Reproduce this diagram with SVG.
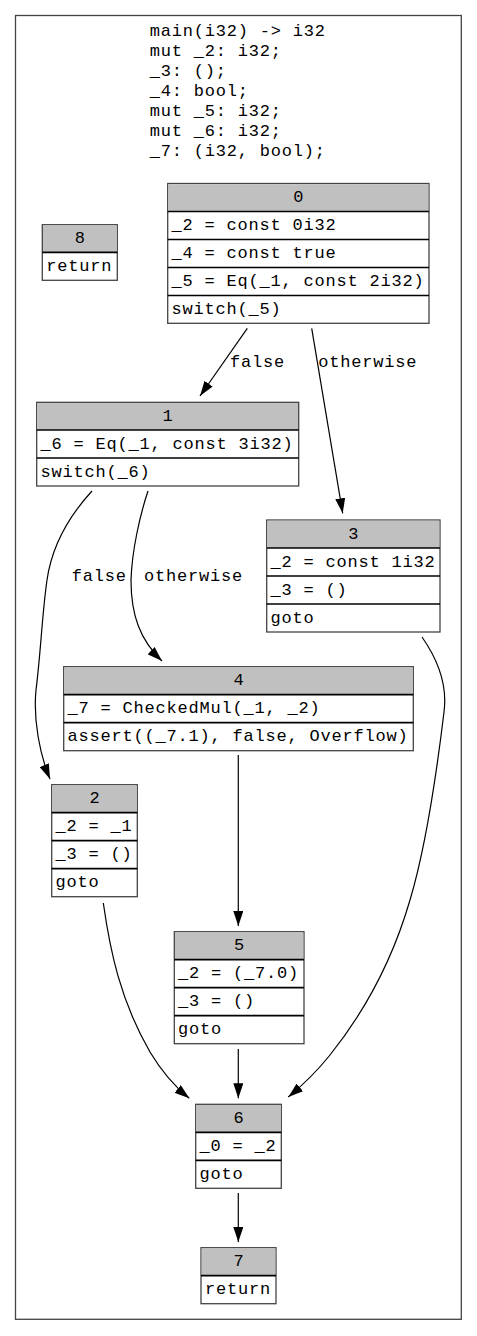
<svg xmlns="http://www.w3.org/2000/svg" width="477" height="1336" viewBox="0 0 477 1336">
<style>
text { font-family: "Liberation Mono", "Courier New", monospace; font-size: 17px; letter-spacing: 0.8px; fill: #000; }
.c { text-anchor: middle; letter-spacing: 0; }
.box { fill: #fff; stroke: #444; stroke-width: 1.3; }
.hd { fill: #c0c0c0; stroke: none; }
.sep { stroke: #000; stroke-width: 1.7; }
.edge { fill: none; stroke: #000; stroke-width: 1.2; marker-end: url(#ah); }
.frame { fill: #fff; stroke: #444; stroke-width: 1.3; }
</style>
<defs>
<marker id="ah" markerUnits="userSpaceOnUse" markerWidth="15" markerHeight="10" refX="15" refY="5" orient="auto" viewBox="0 0 15 10">
<path d="M0,0 L15,5 L0,10 z" fill="#000"/>
</marker>
</defs>
<rect width="477" height="1336" fill="#fff"/>
<rect class="frame" x="15.5" y="15.5" width="445.8" height="1303.8"/>
<g id="title">
<text x="149.7" y="36">main(i32) -&gt; i32</text>
<text x="149.7" y="56">mut _2: i32;</text>
<text x="149.7" y="76">_3: ();</text>
<text x="149.7" y="96">_4: bool;</text>
<text x="149.7" y="116">mut _5: i32;</text>
<text x="149.7" y="136">mut _6: i32;</text>
<text x="149.7" y="156">_7: (i32, bool);</text>
</g>
<g id="connectors">
<path class="edge" d="M247.3,328.3 L200,396"/>
<path class="edge" d="M311.7,328.3 L342.7,513.3"/>
<path class="edge" d="M92,491 C70,515 52,545 47,580 C42,615 41,650 36,690 C33,720 40,755 50,779"/>
<path class="edge" d="M148,491 C140,515 132,550 131,580 C131,615 140,640 162,661"/>
<path class="edge" d="M422,637 C436,657 448,682 444,712 C437,770 425,850 410,900 C392,962 362,1015 330,1055 C318,1070 304,1084 288.3,1097"/>
<path class="edge" d="M103.3,903 C110,950 120,1000 150,1052 C162,1072 174,1086 189.3,1098.3"/>
<path class="edge" d="M238.3,755 L238.3,926"/>
<path class="edge" d="M238.3,1049 L238.3,1098.3"/>
<path class="edge" d="M238.3,1193 L238.3,1242"/>
<text x="230" y="366.7">false</text>
<text x="318.3" y="366.7">otherwise</text>
<text x="71.7" y="581">false</text>
<text x="144" y="581">otherwise</text>
</g>
<g id="node8">
<rect class="box" x="42.3" y="224.7" width="75" height="55.6"/>
<rect class="hd" x="43" y="225.4" width="73.6" height="26.9"/>
<line class="sep" x1="42.3" y1="252.3" x2="117.3" y2="252.3"/>
<text class="c" x="79.8" y="243.2">8</text>
<text x="46.3" y="271">return</text>
</g>
<g id="node0">
<rect class="box" x="167.7" y="183.5" width="261.3" height="139.8"/>
<rect class="hd" x="168.4" y="184.2" width="259.9" height="27.3"/>
<line class="sep" x1="167.7" y1="211.5" x2="429" y2="211.5"/>
<line class="sep" x1="167.7" y1="239.5" x2="429" y2="239.5"/>
<line class="sep" x1="167.7" y1="267.5" x2="429" y2="267.5"/>
<line class="sep" x1="167.7" y1="295.5" x2="429" y2="295.5"/>
<text class="c" x="298.4" y="202">0</text>
<text x="171.5" y="230">_2 = const 0i32</text>
<text x="171.5" y="258">_4 = const true</text>
<text x="171.5" y="286">_5 = Eq(_1, const 2i32)</text>
<text x="171.5" y="314">switch(_5)</text>
</g>
<g id="node1">
<rect class="box" x="36.7" y="402.3" width="262" height="83.7"/>
<rect class="hd" x="37.4" y="403" width="260.6" height="27"/>
<line class="sep" x1="36.7" y1="430" x2="298.7" y2="430"/>
<line class="sep" x1="36.7" y1="458" x2="298.7" y2="458"/>
<text class="c" x="167.7" y="420.8">1</text>
<text x="40.5" y="448.5">_6 = Eq(_1, const 3i32)</text>
<text x="40.5" y="476.5">switch(_6)</text>
</g>
<g id="node3">
<rect class="box" x="266.7" y="520" width="173.3" height="112"/>
<rect class="hd" x="267.4" y="520.7" width="171.9" height="27.3"/>
<line class="sep" x1="266.7" y1="548" x2="440" y2="548"/>
<line class="sep" x1="266.7" y1="576" x2="440" y2="576"/>
<line class="sep" x1="266.7" y1="604" x2="440" y2="604"/>
<text class="c" x="353.3" y="538.5">3</text>
<text x="270.5" y="566.5">_2 = const 1i32</text>
<text x="270.5" y="594.5">_3 = ()</text>
<text x="270.5" y="622.5">goto</text>
</g>
<g id="node4">
<rect class="box" x="63.7" y="666.7" width="349.6" height="84"/>
<rect class="hd" x="64.4" y="667.4" width="348.2" height="27.3"/>
<line class="sep" x1="63.7" y1="694.7" x2="413.3" y2="694.7"/>
<line class="sep" x1="63.7" y1="722.7" x2="413.3" y2="722.7"/>
<text class="c" x="238.5" y="685.2">4</text>
<text x="67.5" y="713.2">_7 = CheckedMul(_1, _2)</text>
<text x="67.5" y="741.2">assert((_7.1), false, Overflow)</text>
</g>
<g id="node2">
<rect class="box" x="51.7" y="784.7" width="85.6" height="112"/>
<rect class="hd" x="52.4" y="785.4" width="84.2" height="27.3"/>
<line class="sep" x1="51.7" y1="812.7" x2="137.3" y2="812.7"/>
<line class="sep" x1="51.7" y1="840.7" x2="137.3" y2="840.7"/>
<line class="sep" x1="51.7" y1="868.7" x2="137.3" y2="868.7"/>
<text class="c" x="94.5" y="803.2">2</text>
<text x="55.5" y="831.2">_2 = _1</text>
<text x="55.5" y="859.2">_3 = ()</text>
<text x="55.5" y="887.2">goto</text>
</g>
<g id="node5">
<rect class="box" x="174.3" y="931.7" width="129.7" height="112"/>
<rect class="hd" x="175" y="932.4" width="128.3" height="27.3"/>
<line class="sep" x1="174.3" y1="959.7" x2="304" y2="959.7"/>
<line class="sep" x1="174.3" y1="987.7" x2="304" y2="987.7"/>
<line class="sep" x1="174.3" y1="1015.7" x2="304" y2="1015.7"/>
<text class="c" x="239.2" y="950.2">5</text>
<text x="178.1" y="978.2">_2 = (_7.0)</text>
<text x="178.1" y="1006.2">_3 = ()</text>
<text x="178.1" y="1034.2">goto</text>
</g>
<g id="node6">
<rect class="box" x="195.7" y="1104.3" width="85.6" height="84"/>
<rect class="hd" x="196.4" y="1105" width="84.2" height="27.3"/>
<line class="sep" x1="195.7" y1="1132.3" x2="281.3" y2="1132.3"/>
<line class="sep" x1="195.7" y1="1160.3" x2="281.3" y2="1160.3"/>
<text class="c" x="238.5" y="1122.8">6</text>
<text x="199.5" y="1150.8">_0 = _2</text>
<text x="199.5" y="1178.8">goto</text>
</g>
<g id="node7">
<rect class="box" x="201" y="1247.7" width="75" height="56"/>
<rect class="hd" x="201.7" y="1248.4" width="73.6" height="27.3"/>
<line class="sep" x1="201" y1="1275.7" x2="276" y2="1275.7"/>
<text class="c" x="238.5" y="1266.2">7</text>
<text x="205" y="1294.2">return</text>
</g>
</svg>
